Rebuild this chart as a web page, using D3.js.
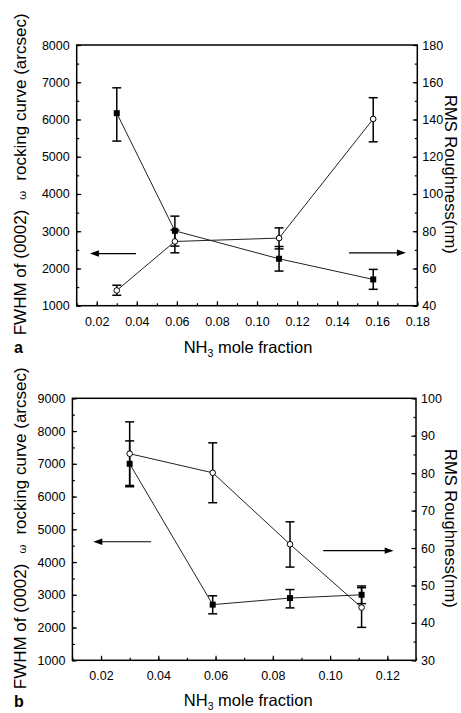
<!DOCTYPE html>
<html><head><meta charset="utf-8">
<script src="https://cdn.jsdelivr.net/npm/d3@7"></script>
<style>
html,body{margin:0;padding:0;background:#fff;}
svg{display:block;}
text{font-family:"Liberation Sans",Arial,sans-serif;fill:#000;}
</style></head>
<body><svg id="c" width="461" height="713"></svg>
<script>
// ---- Panel a data ----
const aX = [0.030, 0.059, 0.111, 0.158];
const aFwhm = [6170, 3010, 2260, 1705];
const aFwhmLow = [5420, 2600, 1930, 1440];
const aFwhmHigh = [6850, 3405, 2590, 1975];
const aRms = [48.2, 74.5, 76.3, 140.3];
const aRmsLow = [45.6, 68.4, 70.5, 128.0];
const aRmsHigh = [51.0, 80.6, 81.8, 151.7];
const aXTicks = [0.02, 0.04, 0.06, 0.08, 0.10, 0.12, 0.14, 0.16, 0.18];
const aLeftTicks = [1000, 2000, 3000, 4000, 5000, 6000, 7000, 8000];
const aRightTicks = [40, 60, 80, 100, 120, 140, 160, 180];

// ---- Panel b data ----
const bX = [0.030, 0.059, 0.086, 0.111];
const bFwhm = [7000, 2700, 2900, 3000];
const bFwhmLow = [6300, 2420, 2600, 2730];
const bFwhmHigh = [7700, 2970, 3160, 3270];
const bRms = [85.2, 80.1, 61.0, 44.1];
const bRmsLow = [76.7, 72.1, 54.9, 38.8];
const bRmsHigh = [93.7, 88.1, 67.0, 49.4];
const bXTicks = [0.02, 0.04, 0.06, 0.08, 0.10, 0.12];
const bLeftTicks = [1000, 2000, 3000, 4000, 5000, 6000, 7000, 8000, 9000];
const bRightTicks = [30, 40, 50, 60, 70, 80, 90, 100];

const xTitle = ["NH", "3", " mole fraction"];
const leftTitle = ["FWHM of (0002)", "\u03c9", "rocking curve (arcsec)"];
const rightTitle = "RMS Roughness(nm)";

const svg = d3.select("#c");

function panel(o) {
  const g = svg.append("g");
  const x = d3.scaleLinear().domain(o.xDom).range(o.xRange);
  const yL = d3.scaleLinear().domain(o.lDom).range(o.yRange);
  const yR = d3.scaleLinear().domain(o.rDom).range(o.yRange);
  const [x0, x1] = o.xRange, [y1, y0] = o.yRange;
  const fmt2 = d3.format(".2f");

  // minor ticks
  const minorX = d3.range(o.xDom[0], o.xDom[1] + 1e-9, 0.01).map(v => +v.toFixed(3));
  g.append("g").attr("transform", `translate(0,${y1})`)
    .call(d3.axisBottom(x).tickValues(minorX).tickSize(-2.5).tickFormat(""))
    .call(s => s.select(".domain").remove());
  const minorL = d3.range(o.lDom[0], o.lDom[1] + 1, 500);
  g.append("g").attr("transform", `translate(${x0},0)`)
    .call(d3.axisLeft(yL).tickValues(minorL).tickSize(-2.5).tickFormat(""))
    .call(s => s.select(".domain").remove());
  const minorR = d3.range(o.rDom[0], o.rDom[1] + 1e-9, o.rMinor);
  g.append("g").attr("transform", `translate(${x1},0)`)
    .call(d3.axisRight(yR).tickValues(minorR).tickSize(-2.5).tickFormat(""))
    .call(s => s.select(".domain").remove());

  // major ticks
  g.append("g").attr("transform", `translate(0,${y1})`)
    .call(d3.axisBottom(x).tickValues(o.xTicks).tickSize(-4.5).tickPadding(11).tickFormat(fmt2))
    .call(s => s.select(".domain").remove())
    .call(s => s.selectAll("text").attr("font-size", 12.5).attr("font-family", null));
  g.append("g").attr("transform", `translate(${x0},0)`)
    .call(d3.axisLeft(yL).tickValues(o.lTicks).tickSize(-4.5).tickPadding(7).tickFormat(d3.format("d")))
    .call(s => s.select(".domain").remove())
    .call(s => s.selectAll("text").attr("font-size", 12.5).attr("font-family", null));
  g.append("g").attr("transform", `translate(${x1},0)`)
    .call(d3.axisRight(yR).tickValues(o.rTicks).tickSize(-4.5).tickPadding(5).tickFormat(d3.format("d")))
    .call(s => s.select(".domain").remove())
    .call(s => s.selectAll("text").attr("font-size", 12.5).attr("font-family", null));
  g.selectAll(".tick line").attr("stroke", "#000").attr("stroke-width", 1.2);

  // frame
  g.append("rect").attr("x", x0).attr("y", y0).attr("width", x1 - x0).attr("height", y1 - y0)
    .attr("fill", "none").attr("stroke", "#000").attr("stroke-width", 1.5);

  const line = (ys) => d3.line().x(d => x(d[0])).y(d => ys(d[1]));
  const sq = d3.zip(o.X, o.fwhm), ci = d3.zip(o.X, o.rms);

  // connecting lines
  g.append("path").datum(sq).attr("d", line(yL)).attr("fill", "none").attr("stroke", "#222").attr("stroke-width", 1);
  g.append("path").datum(ci).attr("d", line(yR)).attr("fill", "none").attr("stroke", "#222").attr("stroke-width", 1);

  // error bars
  function errs(lo, hi, ys) {
    const d = o.X.map((v, i) => [v, lo[i], hi[i]]);
    const e = g.append("g").attr("stroke", "#000").attr("stroke-width", 1.5);
    e.selectAll("line.v").data(d).join("line")
      .attr("x1", d => x(d[0])).attr("x2", d => x(d[0]))
      .attr("y1", d => ys(d[1])).attr("y2", d => ys(d[2]));
    e.selectAll("line.lo").data(d).join("line")
      .attr("x1", d => x(d[0]) - 4.5).attr("x2", d => x(d[0]) + 4.5)
      .attr("y1", d => ys(d[1])).attr("y2", d => ys(d[1]));
    e.selectAll("line.hi").data(d).join("line")
      .attr("x1", d => x(d[0]) - 4.5).attr("x2", d => x(d[0]) + 4.5)
      .attr("y1", d => ys(d[2])).attr("y2", d => ys(d[2]));
  }
  errs(o.fwhmLo, o.fwhmHi, yL);
  errs(o.rmsLo, o.rmsHi, yR);

  // markers
  g.selectAll("rect.sq").data(sq).join("rect")
    .attr("x", d => x(d[0]) - 3).attr("y", d => yL(d[1]) - 3)
    .attr("width", 6).attr("height", 6).attr("fill", "#000");
  g.selectAll("circle.ci").data(ci).join("circle")
    .attr("cx", d => x(d[0])).attr("cy", d => yR(d[1])).attr("r", 2.8)
    .attr("fill", "#fff").attr("stroke", "#000").attr("stroke-width", 1);

  // arrows
  function arrow(xa, xb, yv) {
    const xs = x(xa), xe = x(xb), yy = yv;
    const dir = Math.sign(xe - xs);
    g.append("line").attr("x1", xs).attr("x2", xe - dir * 6).attr("y1", yy).attr("y2", yy)
      .attr("stroke", "#000").attr("stroke-width", 1.2);
    g.append("path").attr("d", `M${xe},${yy}L${xe - dir * 9},${yy - 3.2}L${xe - dir * 9},${yy + 3.2}Z`).attr("fill", "#000");
  }
  arrow(o.arrowL[0], o.arrowL[1], yL(o.arrowL[2]));
  arrow(o.arrowR[0], o.arrowR[1], yR(o.arrowR[2]));

  // x title
  const xc = (x0 + x1) / 2 + o.xTitleDx;
  const t = g.append("text").attr("x", xc).attr("y", o.xTitleY).attr("text-anchor", "middle").attr("font-size", 16.5);
  t.append("tspan").text(xTitle[0]);
  t.append("tspan").attr("dy", 4).attr("font-size", 10.5).text(xTitle[1]);
  t.append("tspan").attr("dy", -4).text(xTitle[2]);

  // left title
  const yc = (y0 + y1) / 2 - 1;
  const lt = g.append("text").attr("transform", `translate(26,${yc}) rotate(-90)`)
    .attr("text-anchor", "middle").attr("font-size", 17);
  lt.append("tspan").text(leftTitle[0]);
  lt.append("tspan").attr("dx", 10).attr("font-family", "'DejaVu Serif',serif").attr("font-size", 11).text(leftTitle[1]);
  lt.append("tspan").attr("dx", 10).text(leftTitle[2]);

  // right title
  g.append("text").attr("transform", `translate(445,${yc}) rotate(90)`)
    .attr("text-anchor", "middle").attr("font-size", 16.5).text(rightTitle);

  // panel letter
  g.append("text").attr("x", 14).attr("y", o.letterY).attr("font-family", "'Liberation Serif','Times New Roman',serif")
    .attr("font-weight", "bold").attr("font-size", 16).text(o.letter);
}

panel({
  xDom: [0.01, 0.18], xRange: [76.7, 417.3],
  lDom: [1000, 8000], rDom: [40, 180], yRange: [305.7, 45],
  xTicks: aXTicks, lTicks: aLeftTicks, rTicks: aRightTicks, rMinor: 10,
  X: aX, fwhm: aFwhm, fwhmLo: aFwhmLow, fwhmHi: aFwhmHigh,
  rms: aRms, rmsLo: aRmsLow, rmsHi: aRmsHigh,
  arrowL: [0.0396, 0.0166, 2400], arrowR: [0.1459, 0.1743, 68.4],
  xTitleY: 353, xTitleDx: 1, letter: "a", letterY: 353
});
panel({
  xDom: [0.01, 0.13], xRange: [72.4, 416],
  lDom: [1000, 9000], rDom: [30, 100], yRange: [660.3, 398.3],
  xTicks: bXTicks, lTicks: bLeftTicks, rTicks: bRightTicks, rMinor: 5,
  X: bX, fwhm: bFwhm, fwhmLo: bFwhmLow, fwhmHi: bFwhmHigh,
  rms: bRms, rmsLo: bRmsLow, rmsHi: bRmsHigh,
  arrowL: [0.0375, 0.0173, 4620], arrowR: [0.0976, 0.1222, 59.3],
  xTitleY: 706, xTitleDx: 4, letter: "b", letterY: 707
});
</script></body></html>
